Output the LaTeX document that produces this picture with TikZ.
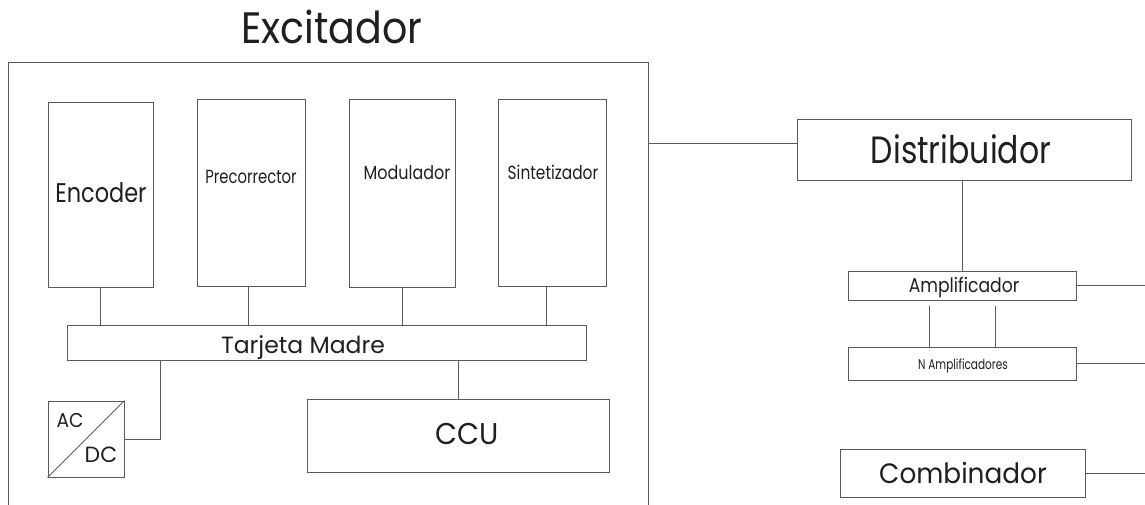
\documentclass[tikz,border=0pt]{standalone}
\usepackage{fontspec}
\setmainfont{Poppins}
\usetikzlibrary{fit}
\newcommand{\sx}[2]{\scalebox{#1}[1]{#2}}
\begin{document}
\begin{tikzpicture}[x=1pt,y=-1pt,
  box/.style={draw=black!65, line width=0.9pt, inner sep=0pt, rectangle},
  wire/.style={draw=black!65, line width=0.9pt},
  txt/.style={anchor=base, inner sep=0pt, text=black!88}]
\useasboundingbox (0,0) rectangle (1145,505);
% outer Excitador frame
\coordinate (exTL) at (8,62);
\coordinate (exTR) at (648,62);
\coordinate (exBL) at (8,505);
\coordinate (exBR) at (648,505);
\draw[wire] (exBL) -- (exTL) -- (exTR) -- (exBR);
\node[txt, font=\fontsize{44}{44}\selectfont] (extitle) at (332,44) {\sx{0.9}{Excitador}};
% modules
\node[box, fit={(48,102) (153,287)}] (enc) {};
\node[box, fit={(197,99) (305,286)}] (pre) {};
\node[box, fit={(349,99) (455,287)}] (mod) {};
\node[box, fit={(498,99) (606,286)}] (sin) {};
\node[txt, font=\fontsize{27}{27}\selectfont] (enct) at (101,202) {\sx{0.83}{Encoder}};
\node[txt, font=\fontsize{19}{19}\selectfont] (pret) at (251,183) {\sx{0.78}{Precorrector}};
\node[txt, font=\fontsize{19}{19}\selectfont] (modt) at (407,179) {\sx{0.84}{Modulador}};
\node[txt, font=\fontsize{19}{19}\selectfont] (sint) at (553,179) {\sx{0.81}{Sintetizador}};
\node[box, fit={(67,325) (586,360)}] (tm) {};
\node[txt, font=\fontsize{23.5}{23.5}\selectfont] (tmt) at (303,353) {Tarjeta Madre};
\node[box, fit={(48,401) (124,477)}] (acdc) {};
\draw[wire] (acdc.south west) -- (acdc.north east);
\node[txt, font=\fontsize{20}{20}\selectfont] (act) at (70,427) {\sx{0.93}{AC}};
\node[txt, font=\fontsize{22}{22}\selectfont] (dct) at (101,462) {DC};
\node[box, fit={(307,399) (609,472)}] (ccu) {};
\node[txt, font=\fontsize{30}{30}\selectfont] (ccut) at (467,444) {\sx{0.95}{CCU}};
% connectors inside
\draw[wire] (enc.south) -- (enc.south |- tm.north);
\draw[wire] ([xshift=-3pt]pre.south) -- ([xshift=-3pt]pre.south |- tm.north);
\draw[wire] (mod.south) -- (mod.south |- tm.north);
\draw[wire] ([xshift=-6pt]sin.south) -- ([xshift=-6pt]sin.south |- tm.north);
\coordinate (acj) at (160,0);
\draw[wire] (acdc.east) -| (tm.south -| acj);
\draw[wire] (ccu.north) -- (ccu.north |- tm.south);
% right side
\node[box, fit={(797,119) (1131,180)}] (dist) {};
\node[txt, font=\fontsize{38}{38}\selectfont] (distt) at (961,164) {\sx{0.83}{Distribuidor}};
\node[box, fit={(848,271) (1076,300)}] (amp) {};
\node[txt, font=\fontsize{20}{20}\selectfont] (ampt) at (964,292) {\sx{0.86}{Amplificador}};
\node[box, fit={(848,347) (1076,380)}] (namp) {};
\node[txt, font=\fontsize{14}{14}\selectfont] (nampt) at (963,369) {\sx{0.75}{N Amplificadores}};
\node[box, fit={(840,449) (1085,497)}] (comb) {};
\node[txt, font=\fontsize{28}{28}\selectfont] (combt) at (963,483) {\sx{0.94}{Combinador}};
\draw[wire] ([yshift=6.5pt]dist.west) -- ([yshift=6.5pt]dist.west -| exTR);
\draw[wire] (amp.north) -- (amp.north |- dist.south);
\draw[wire] ([xshift=-33pt]namp.north) -- ++(0,41pt);
\draw[wire] ([xshift=33pt]namp.north) -- ++(0,41pt);
\coordinate (rEdge) at (1145,0);
\draw[wire] (amp.east) -- (amp.east -| rEdge);
\draw[wire] (namp.east) -- (namp.east -| rEdge);
\draw[wire] (comb.east) -- (comb.east -| rEdge);
\end{tikzpicture}
\end{document}
